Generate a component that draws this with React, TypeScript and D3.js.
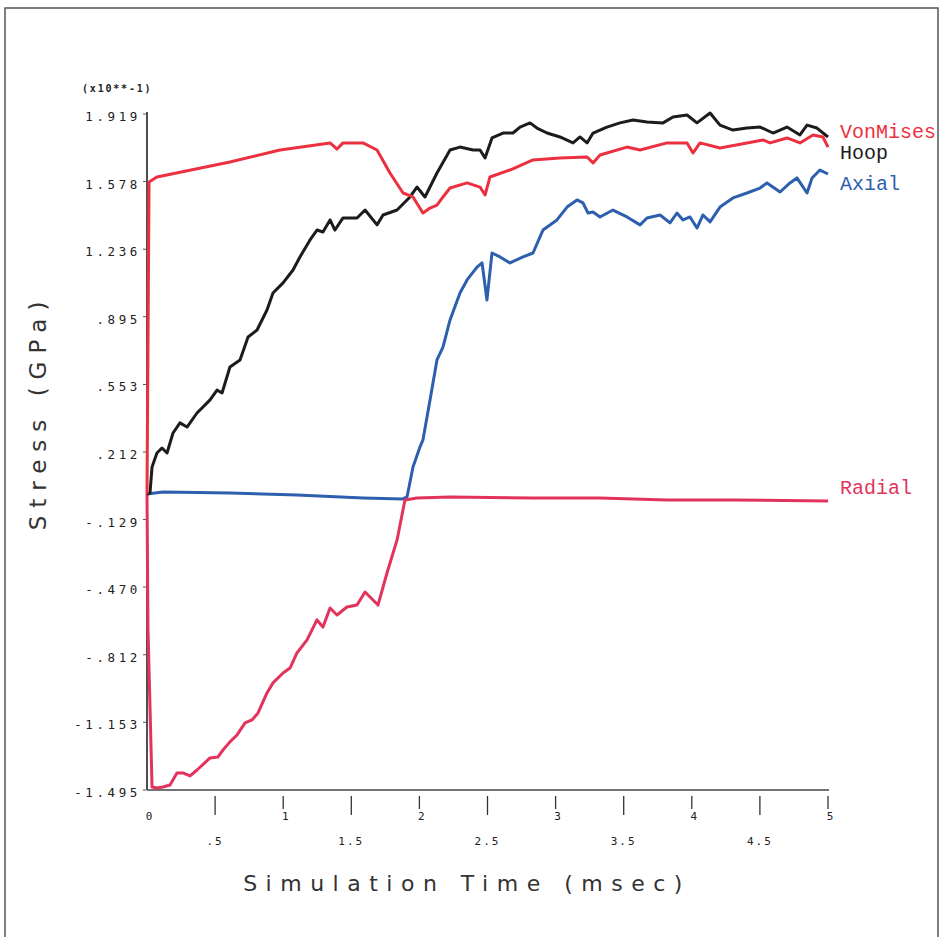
import React from "react";
import * as d3 from "d3";

const yTickValues = [-1.495, -1.153, -0.812, -0.47, -0.129, 0.212, 0.553, 0.895, 1.236, 1.578, 1.919];
const yTickLabels = ["-1.495", "-1.153", "-.812", "-.470", "-.129", ".212", ".553", ".895", "1.236", "1.578", "1.919"];
const xIntTicks = [0, 1, 2, 3, 4, 5];
const xIntLabels = ["0", "1", "2", "3", "4", "5"];
const xHalfTicks = [0.5, 1.5, 2.5, 3.5, 4.5];
const xHalfLabels = [".5", "1.5", "2.5", "3.5", "4.5"];

const vonMises: [number, number][] = [
  [0, 0.0], [0.015, 1.576], [0.073, 1.601], [0.609, 1.677], [0.977, 1.737], [1.344, 1.773],
  [1.395, 1.742], [1.439, 1.773], [1.586, 1.773], [1.689, 1.737], [1.784, 1.621], [1.88, 1.52],
  [1.953, 1.5], [2.026, 1.419], [2.078, 1.444], [2.129, 1.459], [2.173, 1.5], [2.225, 1.545],
  [2.35, 1.571], [2.445, 1.55], [2.482, 1.51], [2.518, 1.601], [2.665, 1.636], [2.834, 1.687],
  [3.032, 1.697], [3.231, 1.702], [3.275, 1.672], [3.326, 1.712], [3.524, 1.752], [3.62, 1.737],
  [3.818, 1.773], [3.965, 1.773], [4.009, 1.722], [4.06, 1.773], [4.207, 1.747], [4.405, 1.773],
  [4.523, 1.788], [4.574, 1.773], [4.699, 1.798], [4.794, 1.773], [4.89, 1.813], [4.963, 1.803],
  [5.0, 1.752],
];

const hoop: [number, number][] = [
  [0, 0.0], [0.022, 0.005], [0.037, 0.136], [0.073, 0.207], [0.11, 0.232], [0.147, 0.207],
  [0.191, 0.308], [0.242, 0.359], [0.294, 0.338], [0.367, 0.409], [0.463, 0.475], [0.514, 0.525],
  [0.551, 0.51], [0.609, 0.641], [0.683, 0.677], [0.742, 0.793], [0.808, 0.828], [0.881, 0.929],
  [0.925, 1.015], [0.999, 1.066], [1.072, 1.131], [1.123, 1.197], [1.197, 1.283], [1.248, 1.333],
  [1.292, 1.323], [1.344, 1.384], [1.38, 1.333], [1.439, 1.394], [1.542, 1.394], [1.601, 1.434],
  [1.689, 1.359], [1.733, 1.409], [1.836, 1.434], [1.931, 1.5], [1.982, 1.55], [2.041, 1.5],
  [2.129, 1.621], [2.225, 1.737], [2.298, 1.752], [2.394, 1.737], [2.445, 1.737], [2.482, 1.697],
  [2.533, 1.798], [2.614, 1.823], [2.687, 1.823], [2.739, 1.853], [2.812, 1.874], [2.863, 1.848],
  [2.937, 1.823], [3.032, 1.803], [3.128, 1.773], [3.179, 1.803], [3.231, 1.773], [3.275, 1.823],
  [3.377, 1.853], [3.473, 1.874], [3.568, 1.889], [3.671, 1.879], [3.789, 1.874], [3.862, 1.904],
  [3.965, 1.914], [4.038, 1.874], [4.134, 1.924], [4.207, 1.863], [4.302, 1.838], [4.405, 1.848],
  [4.501, 1.853], [4.596, 1.823], [4.699, 1.853], [4.794, 1.813], [4.846, 1.863], [4.919, 1.848],
  [5.0, 1.803],
];

const axial: [number, number][] = [
  [0, 0.0], [0.117, 0.01], [0.609, 0.005], [1.101, -0.005], [1.586, -0.02], [1.88, -0.025],
  [1.909, -0.015], [1.953, 0.136], [2.004, 0.237], [2.026, 0.273], [2.078, 0.475], [2.129, 0.677],
  [2.173, 0.742], [2.225, 0.879], [2.298, 1.015], [2.35, 1.081], [2.423, 1.146], [2.46, 1.167],
  [2.496, 0.98], [2.533, 1.217], [2.592, 1.197], [2.665, 1.167], [2.761, 1.197], [2.834, 1.217],
  [2.907, 1.333], [3.01, 1.384], [3.084, 1.449], [3.157, 1.485], [3.201, 1.47], [3.238, 1.419],
  [3.275, 1.424], [3.326, 1.399], [3.421, 1.434], [3.524, 1.399], [3.62, 1.359], [3.671, 1.394],
  [3.767, 1.409], [3.84, 1.369], [3.891, 1.419], [3.935, 1.384], [3.987, 1.399], [4.038, 1.343],
  [4.082, 1.409], [4.134, 1.374], [4.207, 1.449], [4.302, 1.495], [4.405, 1.52], [4.501, 1.545],
  [4.552, 1.571], [4.648, 1.525], [4.721, 1.571], [4.772, 1.596], [4.846, 1.52], [4.883, 1.596],
  [4.941, 1.636], [5.0, 1.616],
];

const radial: [number, number][] = [
  [0, 0.0], [0.007, -0.672], [0.037, -1.48], [0.073, -1.485], [0.117, -1.48], [0.169, -1.47],
  [0.22, -1.409], [0.264, -1.409], [0.316, -1.424], [0.367, -1.394], [0.463, -1.333], [0.521, -1.328],
  [0.558, -1.293], [0.609, -1.252], [0.661, -1.217], [0.72, -1.156], [0.771, -1.141], [0.815, -1.106],
  [0.881, -1.005], [0.925, -0.954], [0.999, -0.904], [1.05, -0.879], [1.101, -0.803], [1.175, -0.737],
  [1.248, -0.636], [1.292, -0.672], [1.344, -0.576], [1.395, -0.611], [1.468, -0.571], [1.542, -0.561],
  [1.601, -0.495], [1.696, -0.561], [1.762, -0.399], [1.836, -0.232], [1.894, -0.03], [1.982, -0.02],
  [2.225, -0.015], [2.834, -0.02], [3.326, -0.02], [3.818, -0.03], [4.302, -0.03], [5.0, -0.035],
];

const series = [
  { name: "Axial", data: axial, color: "#2d5fae", labelY: 184 },
  { name: "Radial", data: radial, color: "#e3335c", labelY: 488 },
  { name: "Hoop", data: hoop, color: "#1c1c1c", labelY: 153 },
  { name: "VonMises", data: vonMises, color: "#ec3040", labelY: 132 },
];

export default function App() {
  const x = d3.scaleLinear().domain([0, 5]).range([147, 828]);
  const y = d3.scaleLinear().domain([-1.495, 1.919]).range([790, 114]);
  const line = d3
    .line<[number, number]>()
    .x((d) => x(d[0]))
    .y((d) => y(d[1]));

  const tickFont = "'DejaVu Sans Mono', monospace";
  const legendFont = "'Liberation Mono', monospace";

  return (
    <svg
      width={942}
      height={937}
      style={{ position: "absolute", left: 0, top: 0, background: "#fff" }}
    >
      <rect x={0} y={0} width={942} height={937} fill="#fff" />
      <rect x={5} y={8} width={933} height={940} fill="none" stroke="#555" strokeWidth={1.5} />

      {/* axes */}
      <line x1={147} x2={147} y1={112} y2={790} stroke="#222" strokeWidth={1.6} />
      <line x1={147} x2={829} y1={790} y2={790} stroke="#444" strokeWidth={1.6} />

      {yTickValues.map((v, i) => (
        <g key={"yt" + i}>
          <line x1={143} x2={146} y1={y(v)} y2={y(v)} stroke="#555" strokeWidth={1} />
          <text
            x={141}
            y={y(v) + 7}
            textAnchor="end"
            fontFamily={tickFont}
            fontSize={12.5}
            letterSpacing={3.6}
            fill="#222"
          >
            {yTickLabels[i]}
          </text>
        </g>
      ))}

      {xIntTicks.map((v, i) => (
        <g key={"xi" + i}>
          {v > 0 && (
            <line x1={x(v)} x2={x(v)} y1={796} y2={809} stroke="#333" strokeWidth={1.3} />
          )}
          <text
            x={x(v) + 2}
            y={820}
            textAnchor="middle"
            fontFamily={tickFont}
            fontSize={11}
            fill="#222"
          >
            {xIntLabels[i]}
          </text>
        </g>
      ))}
      {xHalfTicks.map((v, i) => (
        <g key={"xh" + i}>
          <line x1={x(v)} x2={x(v)} y1={796} y2={815} stroke="#333" strokeWidth={1.3} />
          <text
            x={x(v)}
            y={845}
            textAnchor="middle"
            fontFamily={tickFont}
            fontSize={11}
            letterSpacing={2}
            fill="#222"
          >
            {xHalfLabels[i]}
          </text>
        </g>
      ))}

      <text x={82} y={92} fontFamily={tickFont} fontSize={10} fontWeight="bold" letterSpacing={1.8} fill="#222">
        (x10**-1)
      </text>

      {/* axis titles */}
      <text
        x={467}
        y={891}
        textAnchor="middle"
        fontFamily="'DejaVu Sans', sans-serif"
        fontSize={22}
        letterSpacing={8.5}
        fill="#333"
      >
        Simulation Time (msec)
      </text>
      <text
        transform={`translate(46,412) rotate(-90)`}
        textAnchor="middle"
        fontFamily="'DejaVu Sans', sans-serif"
        fontSize={23}
        letterSpacing={8}
        fill="#333"
      >
        Stress (GPa)
      </text>

      {/* series */}
      {series.map((s) => (
        <path
          key={s.name}
          d={line(s.data) || ""}
          fill="none"
          stroke={s.color}
          strokeWidth={3}
          strokeLinejoin="round"
        />
      ))}

      {series.map((s) => (
        <text
          key={"lbl" + s.name}
          x={840}
          y={s.labelY + 6}
          fontFamily={legendFont}
          fontSize={20}
          fill={s.color}
        >
          {s.name}
        </text>
      ))}
    </svg>
  );
}
